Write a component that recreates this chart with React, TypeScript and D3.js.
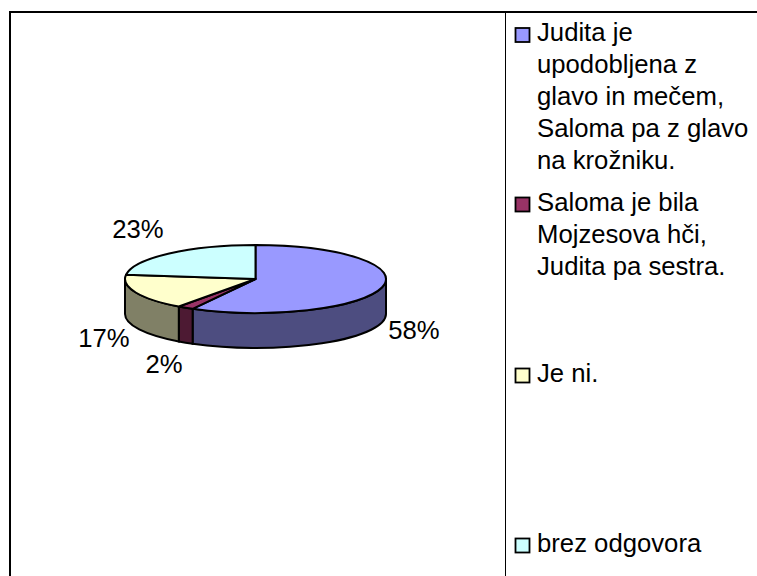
import * as d3 from "d3";

const categories = [
  ["Judita je", "upodobljena z", "glavo in mečem,", "Saloma pa z glavo", "na krožniku."],
  ["Saloma je bila", "Mojzesova hči,", "Judita pa sestra."],
  ["Je ni."],
  ["brez odgovora"],
];
const values = [58, 2, 17, 23];
const colors = ["#9999ff", "#993366", "#ffffcc", "#ccffff"];
const sideColors = ["#4d4d80", "#4d1a33", "#808066", "#668080"];
const labelPos = [
  [414, 330],
  [164, 364],
  [104, 338],
  [138, 229],
];
const legendTop = [36.5, 206, 377, 547];

const W = 757;
const H = 576;
const cx = 255.5;
const cy = 279;
const rx = 130.5;
const ry = 34;
const depth = 35;
const fontSize = 25.7;
const fontFamily = "'Liberation Sans', Arial, sans-serif";

const pt = (a: number, dy = 0): [number, number] => [
  cx + rx * Math.sin(a),
  cy - ry * Math.cos(a) + dy,
];

const App = () => {
  const arcs = d3.pie<number>().sort(null)(values);

  const top = (s: number, e: number) => {
    const [x0, y0] = pt(s);
    const [x1, y1] = pt(e);
    const large = e - s > Math.PI ? 1 : 0;
    return `M${cx},${cy}L${x0},${y0}A${rx},${ry} 0 ${large} 1 ${x1},${y1}Z`;
  };

  // only the front half of the pie shows its wall
  const side = (s: number, e: number) => {
    const a0 = Math.max(s, Math.PI / 2);
    const a1 = Math.min(e, (3 * Math.PI) / 2);
    if (a1 <= a0) return null;
    const [x0, y0] = pt(a0);
    const [x1, y1] = pt(a1);
    const [x2, y2] = pt(a1, depth);
    const [x3, y3] = pt(a0, depth);
    return `M${x0},${y0}A${rx},${ry} 0 0 1 ${x1},${y1}L${x2},${y2}A${rx},${ry} 0 0 0 ${x3},${y3}Z`;
  };

  return (
    <svg
      width={W}
      height={H}
      style={{ position: "absolute", left: 0, top: 0, background: "#fff" }}
      fontFamily={fontFamily}
    >
      <path d={`M10,${H}V12H${W}`} fill="none" stroke="#000" strokeWidth={2} />
      <line x1={505.5} x2={505.5} y1={12} y2={H} stroke="#000" strokeWidth={1} />

      {arcs.map((d, i) => {
        const p = side(d.startAngle, d.endAngle);
        return p ? <path key={i} d={p} fill={sideColors[i]} stroke="#000" strokeWidth={2} /> : null;
      })}
      {arcs.map((d, i) => (
        <path
          key={i}
          d={top(d.startAngle, d.endAngle)}
          fill={colors[i]}
          stroke="#000"
          strokeWidth={2}
          strokeLinejoin="round"
        />
      ))}

      {values.map((v, i) => (
        <text
          key={i}
          x={labelPos[i][0]}
          y={labelPos[i][1]}
          textAnchor="middle"
          dominantBaseline="central"
          fontSize={fontSize}
          fill="#000"
        >
          {v}%
        </text>
      ))}

      {categories.map((lines, i) => (
        <g key={i}>
          <rect
            x={515.5}
            y={legendTop[i] - 8.5}
            width={14}
            height={14}
            fill={colors[i]}
            stroke="#000"
            strokeWidth={1.8}
          />
          {lines.map((t, j) => (
            <text key={j} x={537} y={legendTop[i] + 4.5 + j * 32} fontSize={fontSize} fill="#000">
              {t}
            </text>
          ))}
        </g>
      ))}
    </svg>
  );
};

export default App;
